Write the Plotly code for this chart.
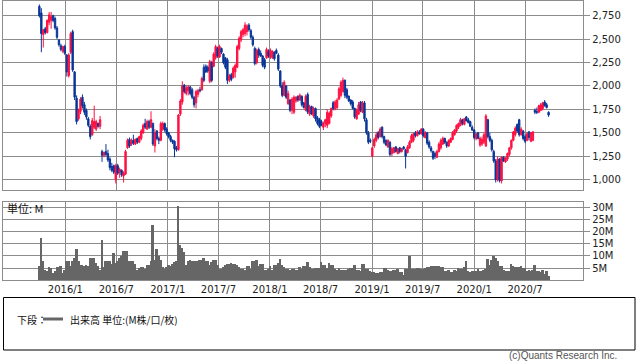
import pandas as pd
import plotly.graph_objects as go

W, H = 638, 362

# ---------------- data (weekly) ----------------
start_date = "2015-09-30"
n_weeks = 261
dates = pd.date_range(start_date, periods=n_weeks, freq="7D")

opens = [
    2850, 2780, 2550, 2610, 2570, 2680, 2700, 2750, 2720, 2620,
    2490, 2430, 2370, 2420, 2330, 2110, 2360, 2580, 2150, 1870,
    1650, 1730, 1880, 1800, 1740, 1650, 1570, 1480, 1560, 1540,
    1600, 1570, 1300, 1260, 1300, 1280, 1220, 1140, 1150, 1000,
    1150, 1080, 1100, 1040, 1060, 1340, 1430, 1380, 1420, 1380,
    1440, 1400, 1440, 1500, 1600, 1540, 1620, 1560, 1600, 1360,
    1520, 1440, 1420, 1540, 1600, 1540, 1500, 1460, 1420, 1410,
    1340, 1320, 1700, 1830, 2010, 1920, 1950, 1990, 1960, 1880,
    1820, 1910, 1960, 1960, 2200, 2210, 2200, 2050, 2250, 2210,
    2300, 2400, 2310, 2400, 2340, 2300, 2280, 2060, 2120, 2090,
    2150, 2200, 2400, 2490, 2550, 2560, 2580, 2650, 2590, 2520,
    2400, 2250, 2390, 2350, 2320, 2280, 2300, 2370, 2310, 2300,
    2360, 2380, 2330, 2160, 2000, 1900, 2000, 1810, 1850, 1740,
    1720, 1840, 1890, 1850, 1890, 1820, 1740, 1910, 1700, 1780,
    1680, 1760, 1660, 1640, 1620, 1560, 1600, 1580, 1600, 1680,
    1820, 1760, 1770, 1860, 1900, 1940, 2060, 1960, 1890, 1850,
    1830, 1760, 1650, 1700, 1830, 1720, 1820, 1640, 1500, 1420,
    1250, 1360, 1420, 1500, 1460, 1560, 1460, 1420, 1350, 1400,
    1280, 1290, 1350, 1280, 1340, 1300, 1350, 1320, 1290, 1340,
    1400, 1420, 1500, 1470, 1510, 1490, 1540, 1450, 1500, 1400,
    1340, 1300, 1280, 1240, 1300, 1340, 1380, 1440, 1400, 1360,
    1400, 1430, 1480, 1520, 1560, 1580, 1640, 1590, 1670, 1640,
    1620, 1560, 1530, 1440, 1500, 1370, 1380, 1400, 1360, 1640,
    1460, 1420, 1300, 1200, 1000, 1220, 990, 1240, 1190, 1220,
    1270, 1340, 1420, 1480, 1590, 1640, 1480, 1520, 1460, 1420,
    1510, 1410, 1420, 1740, 1730, 1720, 1740, 1760, 1830, 1800,
    1720,
]
highs = [
    2870, 2830, 2610, 2630, 2710, 2790, 2790, 2760, 2740, 2640,
    2500, 2450, 2430, 2440, 2340, 2350, 2580, 2600, 2160, 1900,
    1760, 1880, 1910, 1830, 1760, 1670, 1590, 1660, 1790, 1640,
    1610, 1680, 1320, 1300, 1380, 1320, 1240, 1180, 1160, 1170,
    1170, 1130, 1110, 1090, 1320, 1440, 1450, 1440, 1480, 1440,
    1450, 1470, 1540, 1600, 1650, 1640, 1640, 1730, 1610, 1540,
    1530, 1460, 1620, 1620, 1610, 1560, 1510, 1480, 1430, 1420,
    1360, 1700, 1860, 2050, 2020, 2000, 2010, 2000, 1980, 1890,
    1960, 1970, 1990, 2100, 2230, 2230, 2220, 2280, 2270, 2360,
    2440, 2420, 2440, 2410, 2350, 2310, 2300, 2130, 2140, 2210,
    2240, 2440, 2530, 2600, 2620, 2680, 2660, 2670, 2610, 2540,
    2420, 2400, 2410, 2380, 2330, 2300, 2410, 2390, 2400, 2380,
    2370, 2400, 2350, 2170, 2040, 2060, 2010, 1950, 1860, 1880,
    1900, 1890, 1900, 1920, 1900, 1830, 1910, 1930, 1800, 1790,
    1780, 1770, 1680, 1660, 1640, 1620, 1650, 1750, 1730, 1770,
    1840, 1850, 1870, 1990, 2060, 2090, 2070, 1980, 1900, 1860,
    1850, 1770, 1760, 1830, 1840, 1840, 1840, 1660, 1520, 1440,
    1350, 1450, 1510, 1520, 1560, 1570, 1470, 1430, 1430, 1410,
    1350, 1350, 1360, 1340, 1350, 1340, 1360, 1330, 1370, 1420,
    1490, 1500, 1520, 1530, 1530, 1550, 1550, 1520, 1510, 1420,
    1360, 1310, 1300, 1320, 1400, 1440, 1460, 1450, 1410, 1430,
    1450, 1520, 1540, 1590, 1610, 1660, 1650, 1660, 1680, 1660,
    1630, 1580, 1540, 1500, 1510, 1460, 1460, 1500, 1700, 1650,
    1500, 1440, 1320, 1220, 1250, 1230, 1250, 1250, 1240, 1290,
    1350, 1430, 1520, 1570, 1600, 1650, 1560, 1530, 1480, 1510,
    1520, 1510, 1520, 1760, 1770, 1800, 1820, 1830, 1850, 1820,
    1730,
]
lows = [
    2730, 2360, 2410, 2550, 2560, 2650, 2610, 2680, 2600, 2500,
    2420, 2370, 2350, 2330, 2100, 2090, 2340, 2150, 1850, 1590,
    1630, 1700, 1760, 1690, 1640, 1560, 1430, 1470, 1540, 1520,
    1555, 1540, 1190, 1240, 1250, 1190, 1100, 1080, 1060, 960,
    1050, 1020, 1030, 970, 1050, 1330, 1340, 1360, 1370, 1370,
    1380, 1390, 1420, 1490, 1540, 1530, 1540, 1550, 1360, 1290,
    1420, 1380, 1410, 1520, 1510, 1470, 1440, 1400, 1380, 1240,
    1300, 1310, 1680, 1800, 1920, 1900, 1900, 1900, 1860, 1770,
    1760, 1880, 1930, 1950, 2040, 2140, 2140, 2030, 2040, 2200,
    2280, 2300, 2300, 2340, 2230, 2180, 2020, 2040, 2050, 2080,
    2090, 2190, 2380, 2470, 2520, 2530, 2540, 2580, 2500, 2420,
    2220, 2230, 2300, 2310, 2200, 2180, 2290, 2300, 2290, 2290,
    2270, 2340, 2160, 1980, 1880, 1890, 1860, 1800, 1720, 1700,
    1700, 1820, 1830, 1840, 1780, 1760, 1730, 1700, 1680, 1690,
    1660, 1620, 1580, 1550, 1570, 1530, 1560, 1550, 1590, 1660,
    1740, 1740, 1750, 1850, 1880, 1930, 1870, 1860, 1830, 1790,
    1750, 1650, 1640, 1690, 1720, 1710, 1620, 1480, 1380, 1390,
    1240, 1340, 1400, 1430, 1450, 1440, 1380, 1360, 1340, 1250,
    1250, 1280, 1290, 1270, 1280, 1290, 1320, 1120, 1280, 1330,
    1390, 1400, 1450, 1460, 1480, 1480, 1450, 1440, 1370, 1330,
    1290, 1210, 1220, 1230, 1290, 1320, 1370, 1380, 1340, 1350,
    1390, 1420, 1470, 1500, 1540, 1570, 1580, 1580, 1620, 1600,
    1560, 1520, 1430, 1420, 1430, 1350, 1360, 1380, 1350, 1440,
    1400, 1300, 1180, 970, 980, 970, 960, 1190, 1180, 1200,
    1250, 1320, 1410, 1460, 1500, 1460, 1470, 1420, 1390, 1410,
    1420, 1400, 1410, 1700, 1700, 1710, 1730, 1740, 1780, 1760,
    1670,
]
closes = [
    2750, 2560, 2600, 2570, 2700, 2760, 2740, 2700, 2620, 2520,
    2440, 2390, 2420, 2350, 2150, 2330, 2560, 2170, 1880, 1620,
    1740, 1860, 1790, 1720, 1670, 1580, 1460, 1630, 1620, 1620,
    1570, 1640, 1260, 1290, 1270, 1210, 1130, 1100, 1080, 1150,
    1070, 1110, 1050, 1070, 1300, 1420, 1360, 1420, 1390, 1430,
    1400, 1460, 1520, 1580, 1560, 1620, 1560, 1640, 1380, 1500,
    1440, 1420, 1600, 1600, 1530, 1490, 1460, 1420, 1400, 1330,
    1320, 1690, 1840, 2000, 1940, 1980, 1990, 1920, 1880, 1800,
    1940, 1950, 1950, 2080, 2060, 2150, 2160, 2260, 2060, 2340,
    2420, 2320, 2420, 2360, 2250, 2200, 2060, 2110, 2070, 2190,
    2220, 2420, 2510, 2580, 2600, 2650, 2640, 2600, 2520, 2440,
    2240, 2380, 2330, 2320, 2220, 2200, 2390, 2320, 2380, 2370,
    2290, 2350, 2180, 2000, 1900, 2040, 1880, 1920, 1740, 1860,
    1880, 1880, 1850, 1900, 1800, 1770, 1890, 1720, 1780, 1700,
    1760, 1650, 1600, 1570, 1580, 1600, 1640, 1720, 1710, 1760,
    1760, 1830, 1850, 1970, 2040, 2060, 1900, 1880, 1840, 1810,
    1760, 1670, 1740, 1800, 1740, 1820, 1650, 1500, 1400, 1410,
    1340, 1430, 1480, 1450, 1540, 1460, 1400, 1370, 1420, 1270,
    1330, 1340, 1300, 1330, 1300, 1330, 1330, 1250, 1350, 1400,
    1470, 1490, 1470, 1510, 1490, 1540, 1470, 1500, 1390, 1350,
    1310, 1230, 1250, 1300, 1380, 1420, 1440, 1400, 1360, 1420,
    1440, 1500, 1530, 1580, 1600, 1640, 1600, 1650, 1630, 1610,
    1570, 1530, 1450, 1490, 1440, 1440, 1430, 1480, 1680, 1460,
    1420, 1320, 1200, 1000, 1220, 990, 1240, 1200, 1230, 1280,
    1340, 1420, 1510, 1550, 1520, 1480, 1540, 1440, 1410, 1490,
    1450, 1500, 1510, 1720, 1720, 1790, 1800, 1820, 1790, 1770,
    1690,
]
volumes_m = [
    5.8, 17.4, 7.6, 4.2, 3.5, 5.3, 5.0, 2.8, 3.5, 5.3,
    5.3, 5.8, 2.8, 4.2, 7.6, 7.6, 5.8, 7.6, 9.0, 12.8,
    7.6, 6.3, 6.0, 5.8, 6.3, 5.8, 9.0, 9.0, 9.0, 6.9,
    5.8, 4.2, 16.7, 5.3, 8.0, 8.0, 7.6, 6.7, 11.1, 6.9,
    8.0, 9.0, 9.7, 11.8, 11.8, 11.8, 8.0, 8.0, 7.6, 6.7,
    4.2, 4.9, 5.3, 5.3, 4.4, 6.3, 6.3, 8.0, 22.9, 8.3,
    12.8, 9.7, 8.3, 5.3, 4.4, 5.3, 6.3, 5.6, 6.7, 7.2,
    7.6, 30.5, 14.6, 13.2, 11.4, 6.3, 7.6, 8.3, 8.0, 7.6,
    8.0, 7.6, 8.3, 8.3, 9.0, 7.6, 7.6, 6.3, 7.2, 8.1,
    8.1, 6.3, 4.6, 4.6, 5.3, 6.3, 6.7, 6.7, 6.9, 6.7,
    6.7, 6.3, 5.3, 4.4, 4.4, 3.9, 5.8, 5.8, 4.4, 7.6,
    7.6, 8.1, 5.6, 6.7, 6.7, 4.2, 3.9, 4.4, 5.6, 4.2,
    6.3, 6.3, 6.9, 8.8, 6.3, 5.3, 4.6, 4.6, 4.2, 4.4,
    4.4, 3.9, 3.9, 5.3, 4.4, 5.6, 5.6, 7.2, 5.3, 4.4,
    4.4, 4.9, 4.9, 4.9, 7.2, 6.3, 6.3, 4.9, 6.9, 6.3,
    6.3, 4.4, 4.2, 4.9, 3.9, 3.9, 4.2, 4.2, 4.6, 4.9,
    4.9, 6.3, 4.2, 4.2, 3.5, 6.7, 6.7, 4.4, 4.4, 3.5,
    3.1, 3.1, 2.8, 2.8, 3.1, 3.1, 4.9, 4.9, 4.2, 3.5,
    3.5, 4.2, 4.2, 4.6, 3.1, 3.1, 2.1, 4.4, 4.4, 9.7,
    4.4, 4.4, 4.4, 4.9, 4.9, 4.4, 4.4, 4.9, 5.3, 5.3,
    5.6, 5.6, 5.8, 5.8, 5.6, 5.3, 5.3, 3.5, 3.5, 4.2,
    3.1, 3.1, 4.2, 3.5, 4.9, 4.4, 4.4, 5.3, 7.6, 3.5,
    3.1, 3.8, 3.8, 3.5, 4.4, 3.5, 3.5, 4.2, 4.4, 8.6,
    6.3, 8.1, 9.7, 9.0, 7.6, 5.8, 5.8, 4.2, 3.5, 3.5,
    3.5, 6.7, 5.6, 5.3, 5.3, 5.3, 5.8, 4.9, 4.9, 3.5,
    4.2, 3.5, 4.2, 6.3, 3.5, 3.5, 3.1, 4.2, 2.5, 3.5,
    1.7,
]

tick_dates = ["2016-01-01", "2016-07-01", "2017-01-01", "2017-07-01", "2018-01-01",
              "2018-07-01", "2019-01-01", "2019-07-01", "2020-01-01", "2020-07-01"]
tick_labels = ["2016/1", "2016/7", "2017/1", "2017/7", "2018/1",
               "2018/7", "2019/1", "2019/7", "2020/1", "2020/7"]
price_ticks = [1000, 1250, 1500, 1750, 2000, 2250, 2500, 2750]
vol_ticks = [5, 10, 15, 20, 25, 30]
vol_tick_labels = ["5M", "10M", "15M", "20M", "25M", "30M"]

# ---------------- layout helpers ----------------
def px(x):
    return x / W

def py(y):
    return 1 - y / H

RED = "#ff1040"
BLUE = "#0a3598"
GRID = "#8c8c8c"
FONT_NUM = "DejaVu Sans"
FONT_JP = "Noto Sans CJK JP"
x_range = ["2015-05-23", "2021-01-24"]

fig = go.Figure()
fig.add_trace(go.Candlestick(
    x=dates, open=opens, high=highs, low=lows, close=closes,
    increasing=dict(line=dict(color=RED, width=1), fillcolor=RED),
    decreasing=dict(line=dict(color=BLUE, width=1), fillcolor=BLUE),
    whiskerwidth=0, xaxis="x", yaxis="y", showlegend=False, hoverinfo="skip",
))
fig.add_trace(go.Bar(
    x=dates, y=volumes_m, marker=dict(color="#666666", line=dict(width=0)),
    xaxis="x2", yaxis="y2", showlegend=False, hoverinfo="skip",
))

axis_common = dict(showline=True, linecolor=GRID, linewidth=1.3, mirror=True,
                   showgrid=True, gridcolor=GRID, gridwidth=1.3, zeroline=False,
                   automargin=False)

fig.update_layout(
    template="none",
    width=W, height=H,
    margin=dict(l=0, r=0, t=0, b=0, pad=0),
    paper_bgcolor="white", plot_bgcolor="white",
    boxgap=0.3, boxgroupgap=0, bargap=0,
    xaxis=dict(domain=[px(3), px(583)], range=x_range, type="date",
               tickvals=tick_dates, showticklabels=False, ticks="",
               rangeslider=dict(visible=False), anchor="y", **axis_common),
    yaxis=dict(domain=[py(190.3), py(0.7)], range=[887, 2910], side="right",
               tickvals=price_ticks, tickformat=",", ticks="outside", ticklen=6,
               tickwidth=1.3, tickcolor=GRID,
               tickfont=dict(family=FONT_NUM, size=10, color="#222"),
               anchor="x", **axis_common),
    xaxis2=dict(domain=[px(3), px(583)], range=x_range, type="date",
                tickvals=tick_dates, ticktext=tick_labels, ticks="",
                tickfont=dict(family=FONT_NUM, size=10, color="#222"),
                anchor="y2", **axis_common),
    yaxis2=dict(domain=[py(280.1), py(202.3)], range=[0, 32.26], side="right",
                tickvals=vol_ticks, ticktext=vol_tick_labels, ticks="outside", ticklen=6,
                tickwidth=1.3, tickcolor=GRID,
                tickfont=dict(family=FONT_NUM, size=10, color="#222"),
                anchor="x2", **axis_common),
)

fig.add_annotation(text="単位: M", xref="paper", yref="paper", x=px(5), y=py(208),
                   xanchor="left", yanchor="middle", showarrow=False,
                   font=dict(family=FONT_JP, size=11, color="#111"))

# legend box
fig.add_shape(type="rect", xref="paper", yref="paper", x0=px(3.5), x1=px(635), y0=py(350), y1=py(297.5),
              line=dict(color="#000", width=1))
fig.add_shape(type="line", xref="paper", yref="paper", x0=px(43), x1=px(63), y0=py(319), y1=py(319),
              line=dict(color="#666666", width=3))
fig.add_annotation(text="下段：", xref="paper", yref="paper", x=px(15), y=py(319),
                   xanchor="left", yanchor="middle", showarrow=False,
                   font=dict(family=FONT_JP, size=10, color="#111"))
fig.add_annotation(text="出来高 単位:(M株/口/枚)", xref="paper", yref="paper", x=px(68), y=py(319),
                   xanchor="left", yanchor="middle", showarrow=False,
                   font=dict(family=FONT_JP, size=10, color="#111"))
fig.add_annotation(text="(c)Quants Research Inc.", xref="paper", yref="paper", x=px(619), y=py(355),
                   xanchor="right", yanchor="middle", showarrow=False,
                   font=dict(family="Liberation Sans", size=10, color="#555"))

fig.write_html("out.html", config={"displayModeBar": False},
               post_script="document.body.style.margin='0';document.body.style.padding='0';")
